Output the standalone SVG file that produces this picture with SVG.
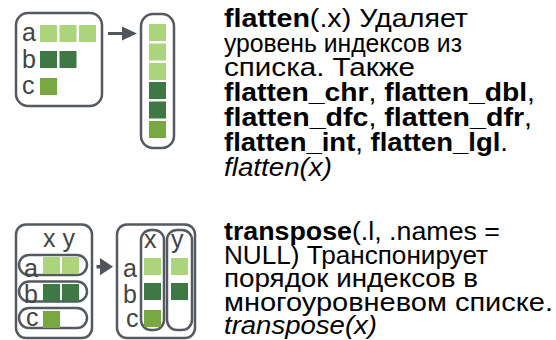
<svg xmlns="http://www.w3.org/2000/svg" width="556" height="340" viewBox="0 0 556 340">
  <style>
    .box { fill: #ffffff; stroke: #555a60; stroke-width: 2.5; }
    .pill { fill: none; stroke: #555a60; stroke-width: 2.5; }
    .lbl { font-family: "Liberation Sans", Arial, sans-serif; font-size: 25px; fill: #444444; }
    .lt { fill: #acd47c; }
    .dk { fill: #3e7845; }
    .md { fill: #79a843; }
    .arrow { fill: #50555b; }
    .txt { font-family: "Liberation Sans", Arial, Helvetica, sans-serif; font-size: 25px; fill: #000000; }
    .b { font-weight: bold; }
    .i { font-style: italic; }
  </style>

  <!-- flatten: nested list on the left -->
  <g id="flatten-input">
    <rect class="box" x="16" y="13" width="86" height="93" rx="12"/>
    <text class="lbl" x="22" y="41">a</text>
    <text class="lbl" x="22" y="68">b</text>
    <text class="lbl" x="22" y="94">c</text>
    <rect class="lt" x="40" y="25" width="17" height="17"/>
    <rect class="lt" x="59.5" y="25" width="17" height="17"/>
    <rect class="lt" x="79" y="25" width="17" height="17"/>
    <rect class="dk" x="40" y="51" width="17" height="17"/>
    <rect class="dk" x="59.5" y="51" width="17" height="17"/>
    <rect class="md" x="40" y="78" width="17" height="17"/>
  </g>

  <!-- flatten: resulting flat vector -->
  <g id="flatten-output">
    <rect class="box" x="141" y="14" width="33" height="134" rx="12"/>
    <rect class="lt" x="149" y="24" width="17" height="17"/>
    <rect class="lt" x="149" y="43.5" width="17" height="17"/>
    <rect class="lt" x="149" y="63" width="17" height="17"/>
    <rect class="dk" x="149" y="82" width="17" height="17"/>
    <rect class="dk" x="149" y="101.5" width="17" height="17"/>
    <rect class="md" x="149" y="121" width="17" height="17"/>
  </g>

  <!-- transpose: list of records -->
  <g id="transpose-input">
    <rect class="box" x="16" y="224.5" width="76" height="113.5" rx="10"/>
    <text class="lbl" x="43" y="247">x y</text>
    <rect class="pill" x="19" y="255" width="68" height="20" rx="10"/>
    <rect class="pill" x="19" y="281.5" width="68" height="20" rx="10"/>
    <rect class="pill" x="19" y="308" width="68" height="20" rx="10"/>
    <text class="lbl" x="24" y="277">a</text>
    <text class="lbl" x="24" y="303">b</text>
    <text class="lbl" x="26" y="326">c</text>
    <rect class="lt" x="43" y="257" width="17" height="17"/>
    <rect class="lt" x="62" y="257" width="17" height="17"/>
    <rect class="dk" x="43" y="284" width="17" height="17"/>
    <rect class="dk" x="62" y="284" width="17" height="17"/>
    <rect class="md" x="43" y="311" width="17" height="17"/>
  </g>

  <!-- transpose: record of lists -->
  <g id="transpose-output">
    <rect class="box" x="117" y="224.5" width="78" height="113.5" rx="10"/>
    <rect class="pill" x="141" y="230" width="23" height="100" rx="10"/>
    <rect class="pill" x="167" y="230" width="25" height="100" rx="10"/>
    <text class="lbl" x="144" y="248">x</text>
    <text class="lbl" x="171" y="248">y</text>
    <text class="lbl" x="123" y="277">a</text>
    <text class="lbl" x="123" y="303">b</text>
    <text class="lbl" x="126" y="327">c</text>
    <rect class="lt" x="144" y="258" width="17" height="17"/>
    <rect class="dk" x="144" y="283" width="17" height="17"/>
    <rect class="md" x="144" y="310" width="17" height="17"/>
    <rect class="lt" x="171" y="258" width="17" height="17"/>
    <rect class="dk" x="171" y="283" width="17" height="17"/>
  </g>

  <!-- arrows between input and output -->
  <g id="connectors">
    <rect class="arrow" x="108" y="32" width="15" height="3"/>
    <polygon class="arrow" points="122,26.5 137,33.5 122,40.5"/>
    <rect class="arrow" x="96.5" y="265" width="5" height="3.5"/>
    <polygon class="arrow" points="100,258 113,266.7 100,275.3"/>
  </g>

  <!-- flatten description -->
  <g id="flatten-text" class="txt">
    <text x="224" y="27" textLength="244" lengthAdjust="spacingAndGlyphs"><tspan class="b">flatten</tspan>(.x) Удаляет</text>
    <text x="224" y="51.5" textLength="238" lengthAdjust="spacingAndGlyphs">уровень индексов из</text>
    <text x="224" y="76" textLength="191" lengthAdjust="spacingAndGlyphs">списка. Также</text>
    <text x="224" y="101" textLength="311" lengthAdjust="spacingAndGlyphs"><tspan class="b">flatten_chr</tspan>, <tspan class="b">flatten_dbl</tspan>,</text>
    <text x="224" y="126" textLength="308" lengthAdjust="spacingAndGlyphs"><tspan class="b">flatten_dfc</tspan>, <tspan class="b">flatten_dfr</tspan>,</text>
    <text x="224" y="151" textLength="284" lengthAdjust="spacingAndGlyphs"><tspan class="b">flatten_int</tspan>, <tspan class="b">flatten_lgl</tspan>.</text>
    <text x="224" y="176" class="i" textLength="108" lengthAdjust="spacingAndGlyphs">flatten(x)</text>
  </g>

  <!-- transpose description -->
  <g id="transpose-text" class="txt">
    <text x="224" y="240" textLength="276" lengthAdjust="spacingAndGlyphs"><tspan class="b">transpose</tspan>(.l, .names =</text>
    <text x="224" y="263.5" textLength="264" lengthAdjust="spacingAndGlyphs">NULL) Транспонирует</text>
    <text x="224" y="287" textLength="254" lengthAdjust="spacingAndGlyphs">порядок индексов в</text>
    <text x="224" y="310.5" textLength="329" lengthAdjust="spacingAndGlyphs">многоуровневом списке.</text>
    <text x="224" y="333.5" class="i" textLength="153" lengthAdjust="spacingAndGlyphs">transpose(x)</text>
  </g>
</svg>
